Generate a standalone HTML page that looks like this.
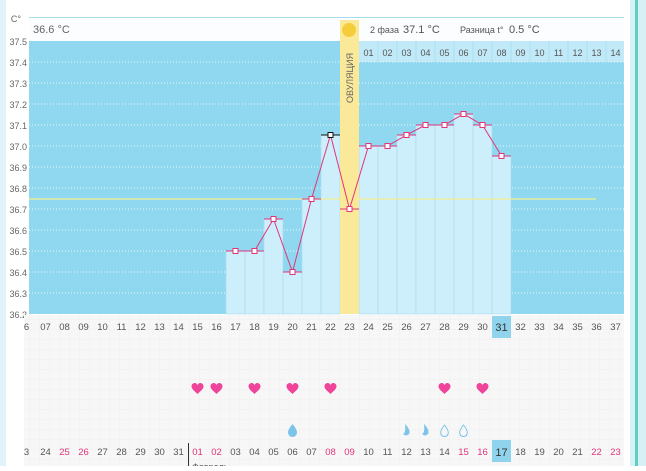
<!DOCTYPE html>
<html><head><meta charset="utf-8"><style>
body{margin:0;width:646px;height:466px;overflow:hidden;background:#fff;font-family:"Liberation Sans",sans-serif}
</style></head><body>
<svg width="646" height="466" xmlns="http://www.w3.org/2000/svg" font-family="Liberation Sans, DejaVu Sans, sans-serif">
<defs>
<pattern id="g" width="10" height="10" patternUnits="userSpaceOnUse"><rect width="10" height="10" fill="#f7f7f7"/><path d="M10 0V10H0" fill="none" stroke="#efefef" stroke-width="1"/></pattern>
<path id="h" d="M0 5 C-3 2 -6 0 -6 -2.5 C-6 -5 -4 -6 -2.8 -6 C-1.5 -6 -0.5 -5 0 -4 C0.5 -5 1.5 -6 2.8 -6 C4 -6 6 -5 6 -2.5 C6 0 3 2 0 5Z" fill="#f0439a"/>
</defs>
<rect x="0" y="0" width="6" height="466" fill="#dff3f8"/>
<rect x="630" y="0" width="16" height="466" fill="#d6f0f5"/>
<rect x="635" y="0" width="3" height="466" fill="#5fcfc0"/>
<line x1="29" y1="17.5" x2="624" y2="17.5" stroke="#a9dcea"/>
<rect x="29" y="18" width="595" height="23" fill="#fbfdfe"/>
<text x="33" y="33" font-size="11" fill="#666">36.6 °C</text>
<text x="370" y="33" font-size="9" fill="#555">2 фаза</text>
<text x="403" y="33" font-size="11" fill="#555">37.1 °C</text>
<text x="460" y="33" font-size="9" fill="#555">Разница t°</text>
<text x="509" y="33" font-size="11" fill="#555">0.5 °C</text>
<rect x="29" y="41" width="595" height="273" fill="#90d8f0"/>
<rect x="359" y="41" width="265" height="21" fill="#c2e9f7"/>
<g stroke="#fff" stroke-dasharray="1,2" stroke-opacity="0.8">
<line x1="29" x2="624" y1="62" y2="62"/><line x1="29" x2="624" y1="83" y2="83"/><line x1="29" x2="624" y1="104" y2="104"/><line x1="29" x2="624" y1="125" y2="125"/><line x1="29" x2="624" y1="146" y2="146"/><line x1="29" x2="624" y1="167" y2="167"/><line x1="29" x2="624" y1="188" y2="188"/><line x1="29" x2="624" y1="209" y2="209"/><line x1="29" x2="624" y1="230" y2="230"/><line x1="29" x2="624" y1="251" y2="251"/><line x1="29" x2="624" y1="272" y2="272"/><line x1="29" x2="624" y1="293" y2="293"/>
</g>
<g fill="#555" font-size="9" text-anchor="middle">
<text x="368.5" y="56">01</text><text x="387.5" y="56">02</text><text x="406.5" y="56">03</text><text x="425.5" y="56">04</text><text x="444.5" y="56">05</text><text x="463.5" y="56">06</text><text x="482.5" y="56">07</text><text x="501.5" y="56">08</text><text x="520.5" y="56">09</text><text x="539.5" y="56">10</text><text x="558.5" y="56">11</text><text x="577.5" y="56">12</text><text x="596.5" y="56">13</text><text x="615.5" y="56">14</text>
</g>
<g stroke="#a8dff0"><line x1="378" x2="378" y1="41" y2="62"/><line x1="397" x2="397" y1="41" y2="62"/><line x1="416" x2="416" y1="41" y2="62"/><line x1="435" x2="435" y1="41" y2="62"/><line x1="454" x2="454" y1="41" y2="62"/><line x1="473" x2="473" y1="41" y2="62"/><line x1="492" x2="492" y1="41" y2="62"/><line x1="511" x2="511" y1="41" y2="62"/><line x1="530" x2="530" y1="41" y2="62"/><line x1="549" x2="549" y1="41" y2="62"/><line x1="568" x2="568" y1="41" y2="62"/><line x1="587" x2="587" y1="41" y2="62"/><line x1="606" x2="606" y1="41" y2="62"/></g>
<g fill="#cdeefb" stroke="#a9dcef" stroke-width="0.6">
<rect x="226" y="251" width="19" height="63"/><rect x="245" y="251" width="19" height="63"/><rect x="264" y="219" width="19" height="95"/><rect x="283" y="272" width="19" height="42"/><rect x="302" y="199" width="19" height="115"/><rect x="321" y="135" width="19" height="179"/>
<rect x="359" y="146" width="19" height="168"/><rect x="378" y="146" width="19" height="168"/><rect x="397" y="135" width="19" height="179"/><rect x="416" y="125" width="19" height="189"/><rect x="435" y="125" width="19" height="189"/><rect x="454" y="114" width="19" height="200"/><rect x="473" y="125" width="19" height="189"/><rect x="492" y="156" width="19" height="158"/>
</g>
<rect x="340" y="20" width="19" height="294" fill="#fbe99a"/>
<circle cx="349" cy="30" r="7" fill="#f5cd3c"/>
<text transform="translate(353,103) rotate(-90)" font-size="9" fill="#666">ОВУЛЯЦИЯ</text>
<line x1="29" x2="596" y1="199" y2="199" stroke="#f3ee90" stroke-width="1.2"/>
<polyline fill="none" stroke="#e0357a" stroke-width="1" points="235.5,251 254.5,251 273.5,219 292.5,272 311.5,199 330.5,135 349.5,209 368.5,146 387.5,146 406.5,135 425.5,125 444.5,125 463.5,114 482.5,125 501.5,156"/>
<g stroke="#e0357a" stroke-width="1">
<line x1="226" x2="245" y1="251" y2="251"/><line x1="245" x2="264" y1="251" y2="251"/><line x1="264" x2="283" y1="219" y2="219"/><line x1="283" x2="302" y1="272" y2="272"/><line x1="302" x2="321" y1="199" y2="199"/><line x1="340" x2="359" y1="209" y2="209"/><line x1="359" x2="378" y1="146" y2="146"/><line x1="378" x2="397" y1="146" y2="146"/><line x1="397" x2="416" y1="135" y2="135"/><line x1="416" x2="435" y1="125" y2="125"/><line x1="435" x2="454" y1="125" y2="125"/><line x1="454" x2="473" y1="114" y2="114"/><line x1="473" x2="492" y1="125" y2="125"/><line x1="492" x2="511" y1="156" y2="156"/>
</g>
<line x1="321" x2="340" y1="135" y2="135" stroke="#111"/>
<g fill="#fff" stroke="#e0357a" stroke-width="1">
<rect x="233" y="248.5" width="5" height="5"/><rect x="252" y="248.5" width="5" height="5"/><rect x="271" y="216.5" width="5" height="5"/><rect x="290" y="269.5" width="5" height="5"/><rect x="309" y="196.5" width="5" height="5"/><rect x="347" y="206.5" width="5" height="5"/><rect x="366" y="143.5" width="5" height="5"/><rect x="385" y="143.5" width="5" height="5"/><rect x="404" y="132.5" width="5" height="5"/><rect x="423" y="122.5" width="5" height="5"/><rect x="442" y="122.5" width="5" height="5"/><rect x="461" y="111.5" width="5" height="5"/><rect x="480" y="122.5" width="5" height="5"/><rect x="499" y="153.5" width="5" height="5"/>
</g>
<rect x="328" y="132.5" width="5" height="5" fill="#fff" stroke="#111"/>
<g font-size="9" fill="#666" text-anchor="end">
<text x="21" y="22">C°</text>
<text x="27" y="45">37.5</text><text x="27" y="66">37.4</text><text x="27" y="87">37.3</text><text x="27" y="108">37.2</text><text x="27" y="129">37.1</text><text x="27" y="150">37.0</text><text x="27" y="171">36.9</text><text x="27" y="192">36.8</text><text x="27" y="213">36.7</text><text x="27" y="234">36.6</text><text x="27" y="255">36.5</text><text x="27" y="276">36.4</text><text x="27" y="297">36.3</text><text x="27" y="318">36.2</text>
</g>
<rect x="24" y="315" width="600" height="151" fill="url(#g)"/>
<rect x="492" y="316" width="19" height="22" fill="#8fd3ec"/>
<rect x="492" y="440" width="19" height="22" fill="#8fd3ec"/>
<g font-size="9.5" fill="#555" text-anchor="middle">
<text x="26.5" y="330">6</text><text x="45.5" y="330">07</text><text x="64.5" y="330">08</text><text x="83.5" y="330">09</text><text x="102.5" y="330">10</text><text x="121.5" y="330">11</text><text x="140.5" y="330">12</text><text x="159.5" y="330">13</text><text x="178.5" y="330">14</text><text x="197.5" y="330">15</text><text x="216.5" y="330">16</text><text x="235.5" y="330">17</text><text x="254.5" y="330">18</text><text x="273.5" y="330">19</text><text x="292.5" y="330">20</text><text x="311.5" y="330">21</text><text x="330.5" y="330">22</text><text x="349.5" y="330">23</text><text x="368.5" y="330">24</text><text x="387.5" y="330">25</text><text x="406.5" y="330">26</text><text x="425.5" y="330">27</text><text x="444.5" y="330">28</text><text x="463.5" y="330">29</text><text x="482.5" y="330">30</text><text x="501.5" y="331" font-size="11" fill="#333">31</text><text x="520.5" y="330">32</text><text x="539.5" y="330">33</text><text x="558.5" y="330">34</text><text x="577.5" y="330">35</text><text x="596.5" y="330">36</text><text x="615.5" y="330">37</text>
</g>
<g font-size="9.5" fill="#555" text-anchor="middle">
<text x="26.5" y="455">3</text><text x="45.5" y="455">24</text><text x="64.5" y="455" fill="#e0357a">25</text><text x="83.5" y="455" fill="#e0357a">26</text><text x="102.5" y="455">27</text><text x="121.5" y="455">28</text><text x="140.5" y="455">29</text><text x="159.5" y="455">30</text><text x="178.5" y="455">31</text><text x="197.5" y="455" fill="#e0357a">01</text><text x="216.5" y="455" fill="#e0357a">02</text><text x="235.5" y="455">03</text><text x="254.5" y="455">04</text><text x="273.5" y="455">05</text><text x="292.5" y="455">06</text><text x="311.5" y="455">07</text><text x="330.5" y="455" fill="#e0357a">08</text><text x="349.5" y="455" fill="#e0357a">09</text><text x="368.5" y="455">10</text><text x="387.5" y="455">11</text><text x="406.5" y="455">12</text><text x="425.5" y="455">13</text><text x="444.5" y="455">14</text><text x="463.5" y="455" fill="#e0357a">15</text><text x="482.5" y="455" fill="#e0357a">16</text><text x="501.5" y="456" font-size="11" fill="#333">17</text><text x="520.5" y="455">18</text><text x="539.5" y="455">19</text><text x="558.5" y="455">20</text><text x="577.5" y="455">21</text><text x="596.5" y="455" fill="#e0357a">22</text><text x="615.5" y="455" fill="#e0357a">23</text>
</g>
<line x1="188.5" x2="188.5" y1="443" y2="466" stroke="#333"/>
<text x="192" y="470" font-size="9" fill="#555">Февраль</text>
<use href="#h" x="197.5" y="389"/><use href="#h" x="216.5" y="389"/><use href="#h" x="254.5" y="389"/><use href="#h" x="292.5" y="389"/><use href="#h" x="330.5" y="389"/><use href="#h" x="444.5" y="389"/><use href="#h" x="482.5" y="389"/>
<path d="M292.5 424 q5 6 4.5 9 q-1 4 -4.5 4 q-3.5 0 -4.5 -4 q-0.5 -3 4.5 -9z" fill="#7ec3ea"/>
<path d="M405 424 q6 6 4 10 q-3 3 -6 0 q3 -1 2 -10z" fill="#7ec3ea"/>
<path d="M424 424 q6 6 4 10 q-3 3 -6 0 q3 -1 2 -10z" fill="#7ec3ea"/>
<path d="M444.5 425 q4 5 3.8 8 q-0.5 3.5 -3.8 3.5 q-3.3 0 -3.8 -3.5 q-0.2 -3 3.8 -8z" fill="none" stroke="#7ec3ea"/>
<path d="M463.5 425 q4 5 3.8 8 q-0.5 3.5 -3.8 3.5 q-3.3 0 -3.8 -3.5 q-0.2 -3 3.8 -8z" fill="none" stroke="#7ec3ea"/>
</svg>
</body></html>
